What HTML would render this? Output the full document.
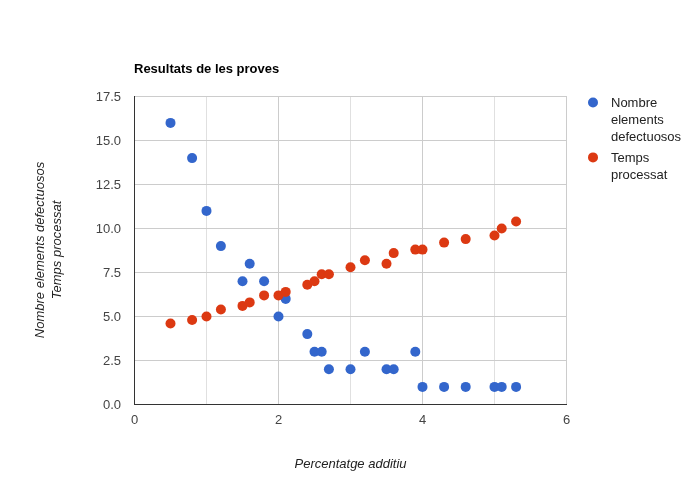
<!DOCTYPE html>
<html><head><meta charset="utf-8"><style>
html,body{margin:0;padding:0;background:#fff;width:700px;height:500px;overflow:hidden}
svg{display:block}
svg{will-change:transform}
text{font-family:"Liberation Sans",sans-serif;font-size:13px}
</style></head><body>
<svg width="700" height="500" viewBox="0 0 700 500">
<rect x="0" y="0" width="700" height="500" fill="#ffffff"/>
<text x="134" y="72.8" font-weight="bold" fill="#000000">Resultats de les proves</text>
<rect x="206" y="96" width="1" height="308" fill="#e0e0e0"/><rect x="278" y="96" width="1" height="308" fill="#cccccc"/><rect x="350" y="96" width="1" height="308" fill="#e0e0e0"/><rect x="422" y="96" width="1" height="308" fill="#cccccc"/><rect x="494" y="96" width="1" height="308" fill="#e0e0e0"/><rect x="566" y="96" width="1" height="308" fill="#cccccc"/><rect x="134" y="96" width="433" height="1" fill="#cccccc"/><rect x="134" y="140" width="433" height="1" fill="#cccccc"/><rect x="134" y="184" width="433" height="1" fill="#cccccc"/><rect x="134" y="228" width="433" height="1" fill="#cccccc"/><rect x="134" y="272" width="433" height="1" fill="#cccccc"/><rect x="134" y="316" width="433" height="1" fill="#cccccc"/><rect x="134" y="360" width="433" height="1" fill="#cccccc"/>
<rect x="134" y="96" width="1" height="309" fill="#333333"/>
<rect x="134" y="404" width="433" height="1" fill="#333333"/>
<g fill="#444444"><text x="121" y="100.6" text-anchor="end">17.5</text><text x="121" y="144.6" text-anchor="end">15.0</text><text x="121" y="188.6" text-anchor="end">12.5</text><text x="121" y="232.6" text-anchor="end">10.0</text><text x="121" y="276.6" text-anchor="end">7.5</text><text x="121" y="320.6" text-anchor="end">5.0</text><text x="121" y="364.6" text-anchor="end">2.5</text><text x="121" y="408.6" text-anchor="end">0.0</text><text x="134.5" y="424" text-anchor="middle">0</text><text x="278.5" y="424" text-anchor="middle">2</text><text x="422.5" y="424" text-anchor="middle">4</text><text x="566.5" y="424" text-anchor="middle">6</text></g>
<circle cx="170.5" cy="122.9" r="5" fill="#3366cc"/><circle cx="192.1" cy="158.1" r="5" fill="#3366cc"/><circle cx="206.5" cy="210.9" r="5" fill="#3366cc"/><circle cx="220.9" cy="246.1" r="5" fill="#3366cc"/><circle cx="242.5" cy="281.3" r="5" fill="#3366cc"/><circle cx="249.7" cy="263.7" r="5" fill="#3366cc"/><circle cx="264.1" cy="281.3" r="5" fill="#3366cc"/><circle cx="278.5" cy="316.5" r="5" fill="#3366cc"/><circle cx="285.7" cy="298.9" r="5" fill="#3366cc"/><circle cx="307.3" cy="334.1" r="5" fill="#3366cc"/><circle cx="314.5" cy="351.7" r="5" fill="#3366cc"/><circle cx="321.7" cy="351.7" r="5" fill="#3366cc"/><circle cx="328.9" cy="369.3" r="5" fill="#3366cc"/><circle cx="350.5" cy="369.3" r="5" fill="#3366cc"/><circle cx="364.9" cy="351.7" r="5" fill="#3366cc"/><circle cx="386.5" cy="369.3" r="5" fill="#3366cc"/><circle cx="393.7" cy="369.3" r="5" fill="#3366cc"/><circle cx="415.3" cy="351.7" r="5" fill="#3366cc"/><circle cx="422.5" cy="386.9" r="5" fill="#3366cc"/><circle cx="444.1" cy="386.9" r="5" fill="#3366cc"/><circle cx="465.7" cy="386.9" r="5" fill="#3366cc"/><circle cx="494.5" cy="386.9" r="5" fill="#3366cc"/><circle cx="501.7" cy="386.9" r="5" fill="#3366cc"/><circle cx="516.1" cy="386.9" r="5" fill="#3366cc"/><circle cx="170.5" cy="323.5" r="5" fill="#dc3912"/><circle cx="192.1" cy="320.0" r="5" fill="#dc3912"/><circle cx="206.5" cy="316.5" r="5" fill="#dc3912"/><circle cx="220.9" cy="309.5" r="5" fill="#dc3912"/><circle cx="242.5" cy="305.9" r="5" fill="#dc3912"/><circle cx="249.7" cy="302.4" r="5" fill="#dc3912"/><circle cx="264.1" cy="295.4" r="5" fill="#dc3912"/><circle cx="278.5" cy="295.4" r="5" fill="#dc3912"/><circle cx="285.7" cy="291.9" r="5" fill="#dc3912"/><circle cx="307.3" cy="284.8" r="5" fill="#dc3912"/><circle cx="314.5" cy="281.3" r="5" fill="#dc3912"/><circle cx="321.7" cy="274.3" r="5" fill="#dc3912"/><circle cx="328.9" cy="274.3" r="5" fill="#dc3912"/><circle cx="350.5" cy="267.2" r="5" fill="#dc3912"/><circle cx="364.9" cy="260.2" r="5" fill="#dc3912"/><circle cx="386.5" cy="263.7" r="5" fill="#dc3912"/><circle cx="393.7" cy="253.1" r="5" fill="#dc3912"/><circle cx="415.3" cy="249.6" r="5" fill="#dc3912"/><circle cx="422.5" cy="249.6" r="5" fill="#dc3912"/><circle cx="444.1" cy="242.6" r="5" fill="#dc3912"/><circle cx="465.7" cy="239.1" r="5" fill="#dc3912"/><circle cx="494.5" cy="235.5" r="5" fill="#dc3912"/><circle cx="501.7" cy="228.5" r="5" fill="#dc3912"/><circle cx="516.1" cy="221.5" r="5" fill="#dc3912"/>
<text x="350.5" y="468" text-anchor="middle" font-style="italic" fill="#222222">Percentatge additiu</text>
<g transform="translate(44.3,250) rotate(-90)"><text x="0" y="0" text-anchor="middle" font-style="italic" fill="#222222">Nombre elements defectuosos</text></g>
<g transform="translate(61,250) rotate(-90)"><text x="0" y="0" text-anchor="middle" font-style="italic" fill="#222222">Temps processat</text></g>
<circle cx="593" cy="102.5" r="5" fill="#3366cc"/>
<g fill="#222222">
<text x="611" y="106.7">Nombre</text>
<text x="611" y="123.7">elements</text>
<text x="611" y="140.7">defectuosos</text>
</g>
<circle cx="593" cy="157.4" r="5" fill="#dc3912"/>
<g fill="#222222">
<text x="611" y="161.5">Temps</text>
<text x="611" y="178.5">processat</text>
</g>
</svg>
</body></html>
